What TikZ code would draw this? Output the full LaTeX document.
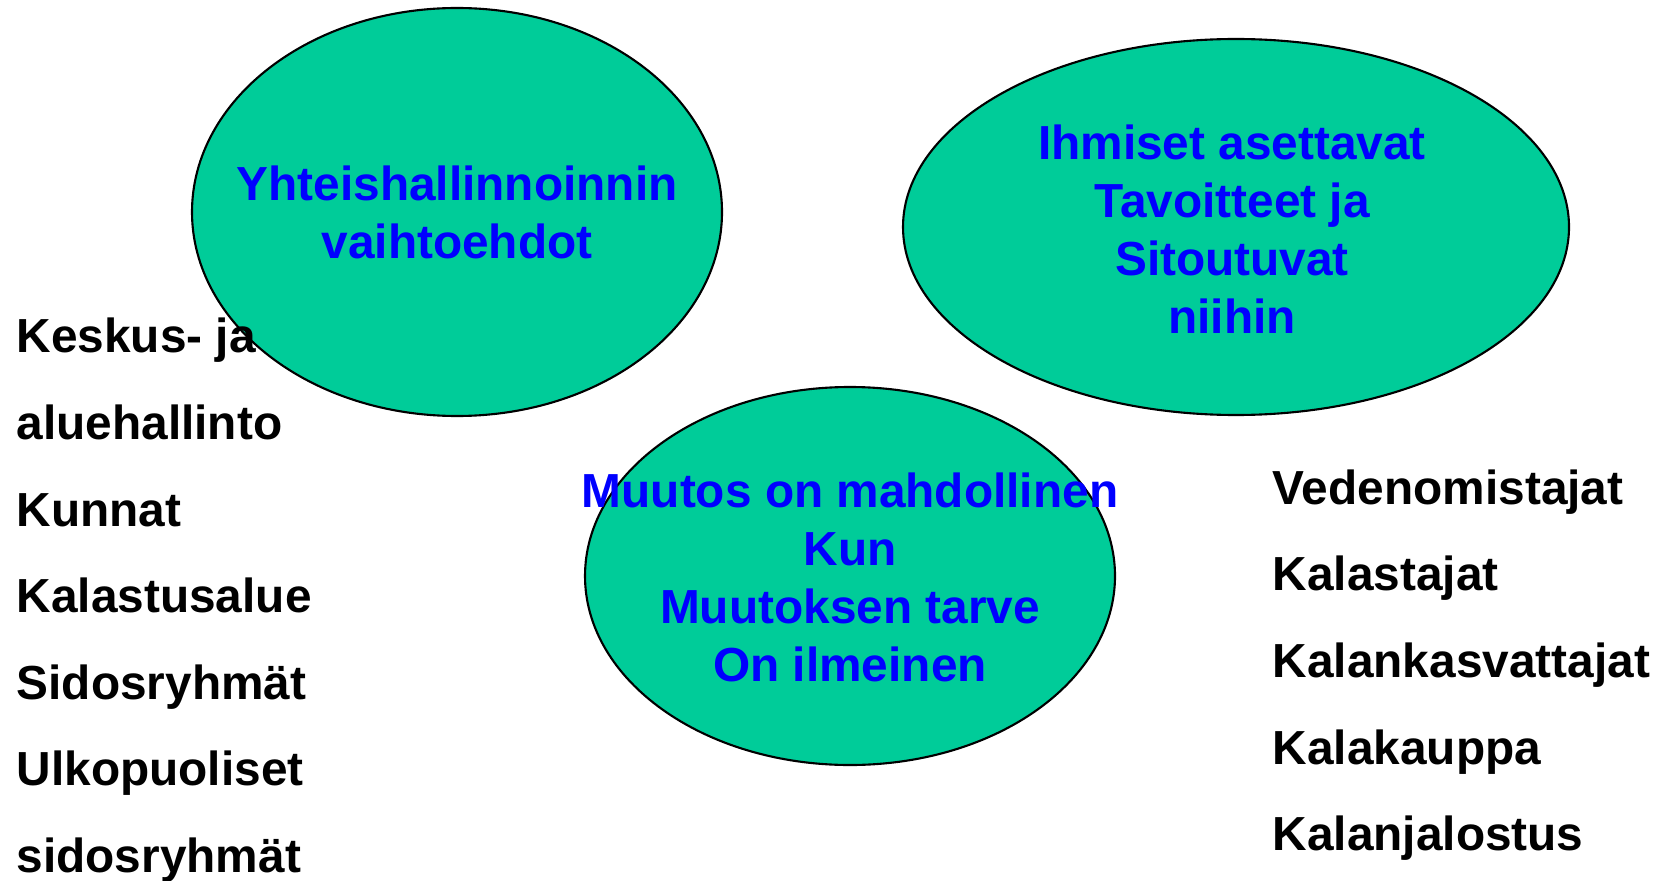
\documentclass[tikz,border=0pt]{standalone}
\usepackage{fontspec}
\setmainfont{Liberation Sans}
\usepackage{tikz}
\usetikzlibrary{shapes.geometric}
\definecolor{vihrea}{RGB}{0,204,153}

\begin{document}
\begin{tikzpicture}[
  bubble/.style={ellipse,draw=black,line width=0.6pt,fill=vihrea,inner sep=0pt},
  btext/.style={text=blue,align=center,inner sep=0pt,font=\bfseries\fontsize{13.6}{16.5}\selectfont},
  ltext/.style={anchor=base west,inner sep=0pt,font=\bfseries\fontsize{13.6}{16.5}\selectfont}]
\useasboundingbox (0,0) rectangle (16.61,8.80);

\node[bubble,minimum width=5.30cm,minimum height=4.08cm] (yht) at (4.57,6.68) {};
\node[bubble,minimum width=6.66cm,minimum height=3.76cm] (tav) at (12.36,6.53) {};
\node[bubble,minimum width=5.30cm,minimum height=3.78cm] (muu) at (8.50,3.04) {};

\node[btext] (yhtt) at (4.57,6.68) {Yhteishallinnoinnin\\vaihtoehdot};
\node[btext] (tavt) at (12.32,6.51) {Ihmiset asettavat\\Tavoitteet ja\\Sitoutuvat\\niihin};
\node[btext] (muut) at (8.50,3.03) {Muutos on mahdollinen\\Kun\\Muutoksen tarve\\On ilmeinen};

\foreach \t [count=\i] in {Keskus- ja,aluehallinto,Kunnat,Kalastusalue,Sidosryhmät,Ulkopuoliset,sidosryhmät}
{ \node[ltext] (vas\i) at (0.16,{5.27-0.865*(\i-1)}) {\t};
}
\foreach \t [count=\i] in {Vedenomistajat,Kalastajat,Kalankasvattajat,Kalakauppa,Kalanjalostus}
{ \node[ltext] (oik\i) at (12.72,{3.76-0.867*(\i-1)}) {\t};
}
\end{tikzpicture}
\end{document}
